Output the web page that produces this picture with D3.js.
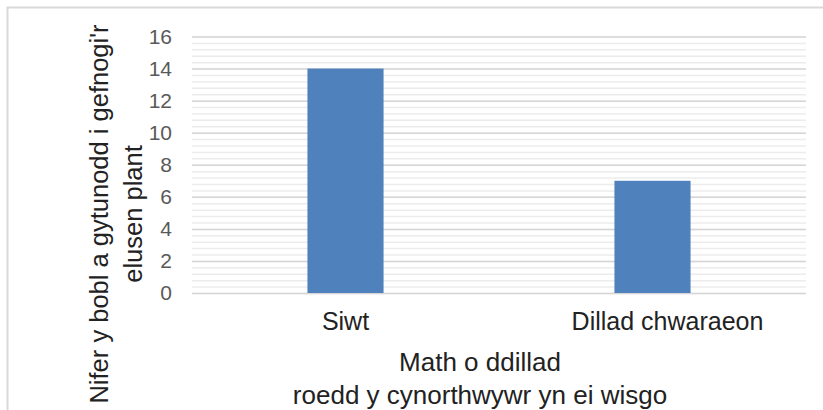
<!DOCTYPE html>
<html>
<head>
<meta charset="utf-8">
<script src="https://cdn.jsdelivr.net/npm/d3@7"></script>
<style>
  body { margin: 0; background: #fff; }
  svg { display: block; }
  .tick text { font-family: "Liberation Sans", Arial, sans-serif; }
</style>
</head>
<body>
<svg id="chart" width="823" height="410"></svg>
<script>
// chart data
const categories = ['Siwt', 'Dillad chwaraeon'];
const values = [14, 7];
const yTicks = [0, 2, 4, 6, 8, 10, 12, 14, 16];
const yTitleLines = ["Nifer y bobl a gytunodd i gefnogi'r", "elusen plant"];
const xTitleLines = ["Math o ddillad", "roedd y cynorthwywr yn ei wisgo"];

const svg = d3.select('#chart');

// outer chart frame (cropped on the right and bottom)
svg.append('rect')
	.attr('x', 7.5).attr('y', 7.5)
	.attr('width', 840).attr('height', 430)
	.attr('fill', '#fff')
	.attr('stroke', '#d9d9d9')
	.attr('stroke-width', 2);

const plot = { left: 192, right: 806, top: 36.5, bottom: 293 };

const x = d3.scaleBand()
	.domain(categories)
	.range([plot.left, plot.right])
	.padding(0);

const y = d3.scaleLinear()
	.domain([0, 16])
	.range([plot.bottom, plot.top]);

const barRatio = 0.248;

// minor gridlines
const minorTicks = d3.range(0, 16.001, 0.4);
svg.append('g')
	.attr('transform', 'translate(' + plot.left + ',0)')
	.call(d3.axisLeft(y).tickValues(minorTicks).tickSize(-(plot.right - plot.left)).tickFormat(''))
	.call(g => g.select('.domain').remove())
	.call(g => g.selectAll('line').attr('stroke', '#ececec').attr('stroke-width', 1.5));

// major gridlines
svg.append('g')
	.attr('transform', 'translate(' + plot.left + ',0)')
	.call(d3.axisLeft(y).tickValues(yTicks).tickSize(-(plot.right - plot.left)).tickFormat(''))
	.call(g => g.select('.domain').remove())
	.call(g => g.selectAll('line').attr('stroke', '#d6d6d6').attr('stroke-width', 1.5));

// y tick labels
svg.append('g')
	.attr('transform', 'translate(172,0)')
	.call(d3.axisLeft(y).tickValues(yTicks).tickSize(0).tickPadding(0))
	.call(g => g.select('.domain').remove())
	.call(g => g.selectAll('text')
		.attr('fill', '#595959')
		.attr('font-size', 21)
		.attr('dy', '0.33em'));

// bars
svg.append('g')
	.selectAll('rect')
	.data(categories)
	.join('rect')
	.attr('x', (d) => x(d) + x.bandwidth() * (1 - barRatio) / 2)
	.attr('width', x.bandwidth() * barRatio)
	.attr('y', (d, i) => y(values[i]))
	.attr('height', (d, i) => y(0) - y(values[i]))
	.attr('fill', '#4f81bd');

// category labels (the second one sits a little right of its bar in the original)
svg.append('g')
	.attr('transform', 'translate(0,330)')
	.call(d3.axisBottom(x).tickSize(0).tickPadding(0))
	.call(g => g.select('.domain').remove())
	.call(g => g.selectAll('text')
		.attr('dy', 0)
		.attr('dx', (d, i) => i === 1 ? 15 : 0)
		.attr('fill', '#222')
		.attr('font-size', 25));

// y axis title
const yTitle = svg.append('text')
	.attr('transform', 'translate(0,214) rotate(-90)')
	.attr('text-anchor', 'middle')
	.attr('font-family', '"Liberation Sans", Arial, sans-serif')
	.attr('font-size', 25.5)
	.attr('fill', '#222');
yTitleLines.forEach(function(line, i) {
	yTitle.append('tspan')
		.attr('x', 0)
		.attr('y', 108 + i * 34)
		.text(line);
});

// x axis title
const xTitle = svg.append('text')
	.attr('text-anchor', 'middle')
	.attr('font-family', '"Liberation Sans", Arial, sans-serif')
	.attr('font-size', 26)
	.attr('fill', '#222');
xTitleLines.forEach(function(line, i) {
	xTitle.append('tspan')
		.attr('x', 480)
		.attr('y', 371 + i * 33)
		.text(line);
});
</script>
</body>
</html>
